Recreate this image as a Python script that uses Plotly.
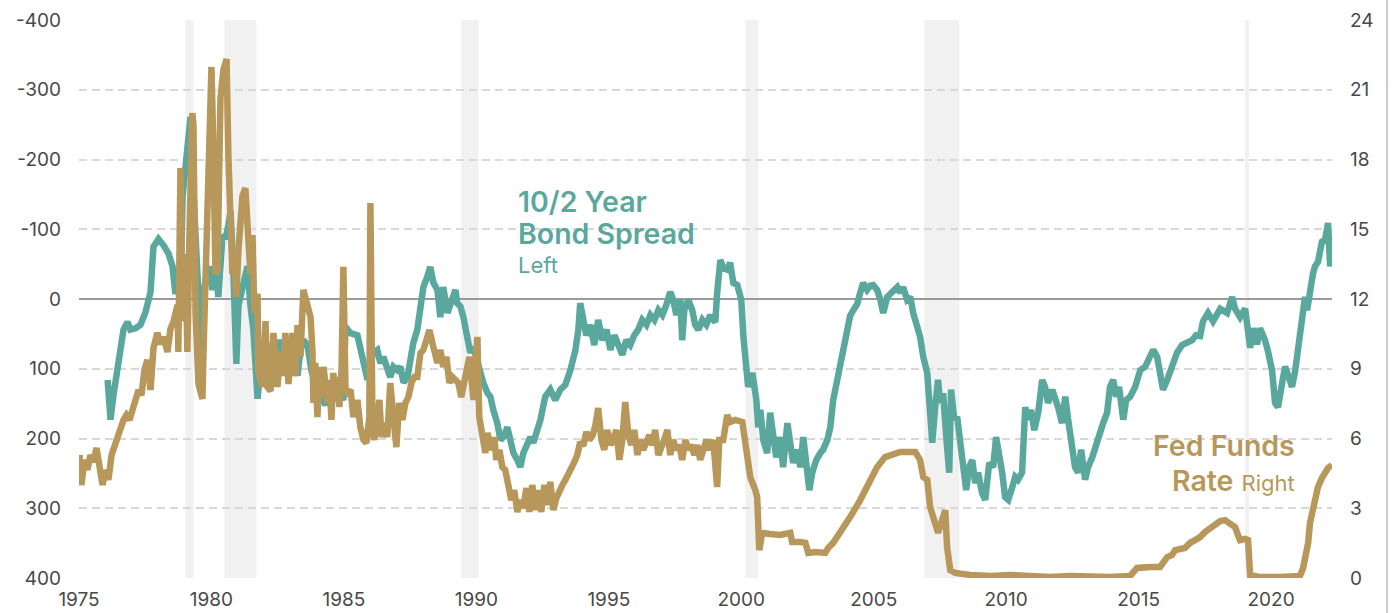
import plotly.graph_objects as go

# ---------------- data ----------------
x_ticks = [1975, 1980, 1985, 1990, 1995, 2000, 2005, 2010, 2015, 2020]
left_ticks = [-400, -300, -200, -100, 0, 100, 200, 300, 400]
left_labels = ["-400", "-300", "-200", "-100", "0", "100", "200", "300", "400"]
right_ticks = [0, 3, 6, 9, 12, 15, 18, 21, 24]

recession_start = [1979.02, 1980.49, 1989.43, 2000.15, 2006.91, 2019.02]
recession_end = [1979.32, 1981.70, 1990.08, 2000.64, 2008.23, 2019.17]

# 10/2 year bond spread, basis points (left axis, inverted)
spread_years = [
    1976.08, 1976.19, 1976.30, 1976.45, 1976.57, 1976.68, 1976.83, 1976.94, 1977.13, 1977.32,
    1977.51, 1977.62, 1977.70, 1977.81, 1978.00, 1978.19, 1978.38, 1978.53, 1978.64, 1978.72,
    1978.83, 1978.91, 1979.02, 1979.09, 1979.21, 1979.28, 1979.40, 1979.47, 1979.58, 1979.66,
    1979.70, 1979.77, 1979.89, 1980.04, 1980.15, 1980.26, 1980.42, 1980.53, 1980.64, 1980.72,
    1980.83, 1980.94, 1981.02, 1981.21, 1981.36, 1981.47, 1981.58, 1981.74, 1981.92, 1982.11,
    1982.34, 1982.53, 1982.72, 1982.87, 1982.98, 1983.25, 1983.36, 1983.47, 1983.62, 1983.77,
    1983.92, 1984.11, 1984.30, 1984.49, 1984.68, 1984.87, 1984.98, 1985.06, 1985.25, 1985.51,
    1985.62, 1985.74, 1985.89, 1986.00, 1986.11, 1986.26, 1986.38, 1986.49, 1986.64, 1986.75,
    1986.87, 1987.02, 1987.13, 1987.25, 1987.40, 1987.51, 1987.62, 1987.77, 1987.89, 1988.00,
    1988.15, 1988.26, 1988.38, 1988.53, 1988.64, 1988.75, 1988.91, 1989.02, 1989.13, 1989.21,
    1989.28, 1989.40, 1989.51, 1989.66, 1989.77, 1989.89, 1990.04, 1990.15, 1990.26, 1990.42,
    1990.53, 1990.64, 1990.79, 1990.91, 1991.02, 1991.17, 1991.28, 1991.40, 1991.55, 1991.66,
    1991.77, 1991.92, 1992.04, 1992.15, 1992.30, 1992.42, 1992.60, 1992.79, 1992.98, 1993.17,
    1993.36, 1993.55, 1993.74, 1993.85, 1993.92, 1994.04, 1994.15, 1994.30, 1994.45, 1994.60,
    1994.75, 1994.91, 1995.06, 1995.21, 1995.36, 1995.51, 1995.66, 1995.81, 1995.96, 1996.11,
    1996.26, 1996.42, 1996.57, 1996.72, 1996.87, 1997.02, 1997.17, 1997.32, 1997.43, 1997.55,
    1997.70, 1997.77, 1997.85, 1998.00, 1998.15, 1998.26, 1998.38, 1998.53, 1998.68, 1998.83,
    1998.94, 1999.02, 1999.09, 1999.21, 1999.32, 1999.47, 1999.58, 1999.70, 1999.85, 2000.00,
    2000.08, 2000.19, 2000.26, 2000.42, 2000.57, 2000.64, 2000.72, 2000.83, 2000.98, 2001.09,
    2001.21, 2001.32, 2001.47, 2001.58, 2001.74, 2001.85, 2001.96, 2002.11, 2002.23, 2002.34,
    2002.45, 2002.57, 2002.68, 2002.83, 2002.98, 2003.09, 2003.25, 2003.36, 2003.47, 2003.62,
    2003.74, 2003.85, 2004.00, 2004.11, 2004.23, 2004.38, 2004.49, 2004.60, 2004.75, 2004.87,
    2004.98, 2005.13, 2005.25, 2005.36, 2005.51, 2005.74, 2005.89, 2006.00, 2006.11, 2006.26,
    2006.38, 2006.49, 2006.64, 2006.75, 2006.87, 2007.02, 2007.13, 2007.21, 2007.32, 2007.43,
    2007.51, 2007.62, 2007.74, 2007.85, 2007.92, 2008.04, 2008.15, 2008.26, 2008.38, 2008.49,
    2008.60, 2008.72, 2008.83, 2008.94, 2009.09, 2009.21, 2009.36, 2009.51, 2009.62, 2009.74,
    2009.85, 2009.96, 2010.08, 2010.23, 2010.34, 2010.45, 2010.60, 2010.72, 2010.83, 2010.94,
    2011.06, 2011.21, 2011.36, 2011.47, 2011.58, 2011.74, 2011.85, 2011.96, 2012.11, 2012.23,
    2012.34, 2012.49, 2012.60, 2012.72, 2012.83, 2012.98, 2013.09, 2013.25, 2013.40, 2013.55,
    2013.66, 2013.81, 2013.92, 2014.04, 2014.15, 2014.26, 2014.42, 2014.53, 2014.68, 2014.87,
    2015.06, 2015.25, 2015.43, 2015.55, 2015.70, 2015.81, 2015.92, 2016.08, 2016.19, 2016.30,
    2016.45, 2016.64, 2016.83, 2017.02, 2017.17, 2017.32, 2017.43, 2017.62, 2017.81, 2018.08,
    2018.34, 2018.53, 2018.64, 2018.83, 2019.02, 2019.13, 2019.21, 2019.32, 2019.47, 2019.58,
    2019.77, 2019.89, 2020.04, 2020.15, 2020.26, 2020.42, 2020.53, 2020.64, 2020.79, 2020.91,
    2021.02, 2021.17, 2021.28, 2021.36, 2021.47, 2021.58, 2021.66, 2021.77, 2021.92, 2022.04,
    2022.15, 2022.23, 2022.30,
]
spread_bp = [
    116, 173, 138, 102, 80, 44, 33, 44, 42, 37,
    19, 1, -10, -75, -86, -77, -65, -47, -7, -36,
    -20, -148, -199, -232, -261, -185, -70, -36, 32, 73,
    1, -27, -47, -13, -47, -3, -92, -86, -106, -126,
    -36, 93, 9, -19, -47, 9, 43, 143, 76, 65,
    99, 59, 76, 110, 65, 110, 73, 59, 66, 102,
    123, 138, 152, 130, 142, 138, 145, 40, 49, 52,
    73, 97, 116, 92, 77, 73, 92, 83, 102, 112,
    97, 102, 97, 120, 112, 83, 63, 44, 6, -17,
    -32, -46, -23, -13, 26, -17, 20, 6, -9, -13,
    6, 11, 26, 63, 77, 69, 92, 112, 120, 135,
    140, 159, 178, 202, 198, 184, 206, 221, 231, 241,
    221, 206, 198, 206, 188, 173, 140, 130, 145, 130,
    123, 102, 73, 44, 6, 30, 52, 37, 66, 30,
    59, 44, 73, 52, 66, 80, 59, 66, 52, 44,
    30, 37, 23, 30, 16, 23, 9, -10, 1, 23,
    1, 59, 16, 1, 16, 37, 44, 30, 37, 23,
    30, 33, -9, -56, -44, -42, -52, -23, -20, 1,
    54, 97, 126, 106, 145, 184, 159, 202, 221, 163,
    192, 227, 198, 241, 178, 212, 235, 216, 241, 198,
    227, 274, 249, 231, 221, 216, 202, 184, 145, 116,
    90, 69, 34, 24, 16, 7, -9, -23, -13, -19,
    -20, -13, 1, 20, -3, -13, -17, -9, -17, 1,
    -3, 20, 40, 54, 83, 106, 163, 206, 155, 116,
    149, 135, 198, 249, 130, 173, 169, 198, 241, 274,
    241, 231, 264, 249, 278, 288, 235, 241, 198, 221,
    249, 284, 288, 270, 255, 259, 249, 155, 173, 159,
    188, 163, 116, 126, 149, 130, 140, 155, 178, 140,
    173, 212, 241, 249, 216, 259, 241, 227, 206, 188,
    178, 163, 126, 116, 140, 126, 173, 145, 140, 126,
    102, 97, 83, 73, 83, 106, 130, 116, 106, 92,
    77, 66, 62, 59, 52, 53, 32, 20, 32, 14,
    20, -3, 14, 26, 14, 42, 70, 42, 65, 42,
    59, 76, 103, 149, 155, 120, 97, 109, 126, 103,
    76, 32, -3, 16, -14, -36, -47, -53, -82, -85,
    -109, -47, -59,
]

# Fed funds rate, percent (right axis)
ff_years = [
    1975.02, 1975.09, 1975.21, 1975.32, 1975.43, 1975.55, 1975.66, 1975.77, 1975.89, 1976.00,
    1976.11, 1976.23, 1976.34, 1976.45, 1976.57, 1976.68, 1976.79, 1976.91, 1977.02, 1977.13,
    1977.25, 1977.36, 1977.47, 1977.58, 1977.70, 1977.81, 1977.96, 1978.08, 1978.19, 1978.34,
    1978.45, 1978.57, 1978.72, 1978.75, 1978.83, 1978.91, 1978.94, 1979.02, 1979.09, 1979.17,
    1979.28, 1979.32, 1979.40, 1979.47, 1979.51, 1979.58, 1979.66, 1979.70, 1979.77, 1979.85,
    1979.89, 1980.00, 1980.08, 1980.15, 1980.23, 1980.26, 1980.34, 1980.45, 1980.57, 1980.64,
    1980.72, 1980.79, 1980.83, 1980.94, 1981.02, 1981.17, 1981.28, 1981.36, 1981.47, 1981.55,
    1981.62, 1981.74, 1981.77, 1981.92, 1982.04, 1982.11, 1982.23, 1982.34, 1982.49, 1982.60,
    1982.72, 1982.79, 1982.91, 1983.06, 1983.17, 1983.25, 1983.36, 1983.47, 1983.55, 1983.62,
    1983.74, 1983.81, 1983.85, 1983.92, 1984.00, 1984.08, 1984.15, 1984.23, 1984.30, 1984.38,
    1984.45, 1984.53, 1984.60, 1984.68, 1984.75, 1984.83, 1984.91, 1984.98, 1985.06, 1985.13,
    1985.25, 1985.36, 1985.51, 1985.62, 1985.74, 1985.85, 1985.96, 1986.00, 1986.08, 1986.15,
    1986.26, 1986.34, 1986.42, 1986.53, 1986.64, 1986.75, 1986.87, 1986.98, 1987.09, 1987.21,
    1987.32, 1987.43, 1987.55, 1987.66, 1987.77, 1987.89, 1988.00, 1988.11, 1988.23, 1988.34,
    1988.45, 1988.53, 1988.64, 1988.75, 1988.87, 1988.98, 1989.09, 1989.21, 1989.32, 1989.43,
    1989.55, 1989.66, 1989.74, 1989.85, 1989.89, 1989.96, 1990.04, 1990.11, 1990.19, 1990.26,
    1990.34, 1990.42, 1990.49, 1990.57, 1990.68, 1990.75, 1990.87, 1990.98, 1991.09, 1991.21,
    1991.32, 1991.43, 1991.55, 1991.66, 1991.77, 1991.89, 1992.00, 1992.11, 1992.23, 1992.34,
    1992.45, 1992.57, 1992.68, 1992.79, 1992.91, 1993.02, 1993.13, 1993.25, 1993.36, 1993.47,
    1993.58, 1993.70, 1993.81, 1993.92, 1994.04, 1994.15, 1994.26, 1994.38, 1994.49, 1994.60,
    1994.72, 1994.83, 1994.94, 1995.06, 1995.17, 1995.28, 1995.40, 1995.51, 1995.62, 1995.74,
    1995.85, 1995.96, 1996.08, 1996.19, 1996.30, 1996.42, 1996.53, 1996.64, 1996.75, 1996.87,
    1996.98, 1997.09, 1997.21, 1997.32, 1997.43, 1997.55, 1997.66, 1997.77, 1997.89, 1998.00,
    1998.11, 1998.23, 1998.34, 1998.45, 1998.57, 1998.68, 1998.79, 1998.94, 1999.09, 1999.17,
    1999.32, 1999.47, 1999.58, 1999.77, 2000.04, 2000.15, 2000.34, 2000.53, 2000.60, 2000.68,
    2000.79, 2001.09, 2001.47, 2001.85, 2001.92, 2002.23, 2002.42, 2002.53, 2002.79, 2003.17,
    2003.28, 2003.47, 2003.74, 2003.92, 2004.11, 2004.49, 2004.87, 2005.13, 2005.43, 2005.62,
    2006.00, 2006.57, 2006.75, 2006.87, 2007.02, 2007.13, 2007.32, 2007.43, 2007.58, 2007.70,
    2007.77, 2007.89, 2008.08, 2008.64, 2009.40, 2010.15, 2010.91, 2011.66, 2012.42, 2013.17,
    2013.92, 2014.68, 2014.94, 2015.43, 2015.81, 2015.92, 2016.08, 2016.26, 2016.38, 2016.75,
    2016.94, 2017.13, 2017.32, 2017.51, 2017.70, 2017.89, 2018.08, 2018.26, 2018.45, 2018.64,
    2018.75, 2018.83, 2019.02, 2019.13, 2019.21, 2019.58, 2020.34, 2021.09, 2021.21, 2021.32,
    2021.40, 2021.47, 2021.58, 2021.66, 2021.77, 2021.92, 2022.04, 2022.15, 2022.30,
]
ff_rate = [
    5.29, 4.00, 5.08, 4.65, 5.29, 4.99, 5.59, 4.86, 4.00, 4.65,
    4.22, 5.29, 5.72, 5.94, 6.37, 6.80, 7.01, 6.80, 7.23, 7.66,
    8.09, 7.87, 8.95, 9.38, 8.09, 9.89, 10.54, 10.06, 10.37, 9.72,
    10.71, 11.05, 11.74, 9.72, 17.63, 11.05, 11.40, 13.94, 9.72, 14.75,
    20.00, 19.48, 11.40, 8.86, 8.34, 8.04, 7.70, 9.72, 13.08, 14.75,
    18.97, 21.98, 18.11, 13.08, 13.25, 16.43, 20.65, 21.85, 22.32, 18.11,
    15.61, 13.08, 14.11, 12.09, 14.11, 16.43, 16.77, 14.75, 13.08, 14.75,
    11.40, 12.22, 8.86, 8.22, 11.05, 8.22, 8.04, 10.54, 8.22, 9.72,
    8.69, 10.54, 8.34, 10.54, 8.69, 10.88, 9.51, 12.39, 12.09, 11.83,
    11.23, 9.81, 7.53, 9.25, 6.92, 9.08, 7.78, 9.08, 8.39, 7.53,
    8.52, 6.80, 8.82, 7.66, 8.65, 7.35, 8.95, 13.38, 8.09, 7.96,
    8.09, 6.92, 7.66, 6.49, 5.94, 5.81, 6.92, 16.13, 6.37, 5.94,
    6.80, 7.66, 6.06, 6.67, 6.06, 8.39, 6.92, 5.63, 7.53, 6.80,
    7.53, 7.78, 8.39, 8.65, 8.65, 9.68, 9.81, 10.37, 10.67, 10.11,
    9.51, 9.25, 9.81, 9.08, 9.51, 8.39, 8.65, 8.52, 8.39, 7.78,
    8.65, 9.08, 9.51, 8.39, 7.66, 9.25, 10.37, 6.92, 6.37, 6.06,
    5.38, 6.24, 5.81, 5.51, 6.06, 5.08, 5.51, 4.77, 4.65, 3.78,
    3.35, 3.78, 2.84, 3.35, 3.01, 3.87, 2.84, 4.00, 2.92, 3.78,
    2.84, 4.00, 3.14, 4.13, 2.92, 3.44, 3.78, 4.00, 4.22, 4.43,
    4.73, 4.99, 5.29, 5.85, 5.68, 6.28, 5.94, 6.11, 6.54, 7.31,
    5.94, 5.51, 6.37, 5.72, 5.94, 6.37, 5.08, 5.94, 7.57, 6.15,
    5.72, 6.37, 5.29, 5.94, 5.51, 5.94, 6.15, 5.72, 6.37, 5.29,
    5.72, 5.94, 6.37, 5.29, 5.94, 5.51, 5.72, 5.08, 5.94, 5.51,
    5.72, 5.29, 5.72, 5.08, 5.51, 5.94, 5.51, 5.94, 3.91, 5.94,
    5.94, 7.01, 6.71, 6.80, 6.71, 5.63, 4.34, 3.78, 3.48, 1.20,
    1.94, 1.89, 1.85, 1.94, 1.55, 1.55, 1.51, 1.08, 1.12, 1.08,
    1.29, 1.51, 1.94, 2.28, 2.62, 3.35, 4.22, 4.77, 5.20, 5.29,
    5.42, 5.42, 5.08, 4.34, 4.22, 3.05, 2.19, 1.94, 2.49, 2.92,
    1.33, 0.34, 0.22, 0.13, 0.09, 0.13, 0.09, 0.04, 0.09, 0.04,
    0.04, 0.09, 0.43, 0.47, 0.47, 0.65, 0.90, 0.99, 1.20, 1.29,
    1.51, 1.63, 1.76, 1.98, 2.15, 2.28, 2.45, 2.49, 2.37, 2.19,
    1.85, 1.63, 1.68, 1.63, 0.13, 0.04, 0.04, 0.09, 0.43, 1.08,
    1.51, 2.37, 3.05, 3.48, 3.91, 4.30, 4.52, 4.73, 4.86,
]

# ---------------- styling ----------------
TEAL = "#5aa89d"
GOLD = "#b8975a"
FONT = "Inter"
TICK_COLOR = "#484848"

fig = go.Figure()

for x0, x1 in zip(recession_start, recession_end):
    fig.add_shape(type="rect", xref="x", yref="paper", x0=x0, x1=x1, y0=0, y1=1,
                  fillcolor="#f1f1f1", line_width=0, layer="below")

fig.add_trace(go.Scatter(x=spread_years, y=spread_bp, mode="lines", name="10/2 Year Bond Spread",
                         line=dict(color=TEAL, width=6.5), yaxis="y", hoverinfo="skip"))
fig.add_trace(go.Scatter(x=ff_years, y=ff_rate, mode="lines", name="Fed Funds Rate",
                         line=dict(color=GOLD, width=6.5), yaxis="y2", hoverinfo="skip"))

# thin frame line at the right of the image
fig.add_shape(type="line", xref="paper", yref="paper", x0=1.0439, x1=1.0439, y0=-0.07, y1=1.04,
              line=dict(color="#cccccc", width=2))

tickfont = dict(size=19, color=TICK_COLOR, family=FONT, weight=400)

fig.update_layout(
    width=1392, height=613,
    margin=dict(l=79, r=60, t=20, b=35, autoexpand=False),
    paper_bgcolor="white", plot_bgcolor="white",
    showlegend=False,
    font=dict(family=FONT, color=TICK_COLOR, size=19),
    xaxis=dict(range=[1975, 2022.3], tickvals=x_ticks, ticktext=[str(v) for v in x_ticks],
               showgrid=False, zeroline=False, showline=False, ticks="", automargin=False,
               ticklabelstandoff=8, tickfont=tickfont),
    yaxis=dict(range=[400, -400], tickvals=left_ticks, ticktext=left_labels, automargin=False,
               showgrid=True, gridcolor="#d8d8d8", griddash="8px,5px", gridwidth=1.5,
               zeroline=True, zerolinecolor="#9a9a9a", zerolinewidth=1.5,
               showline=False, ticks="", ticklabelstandoff=17, tickfont=tickfont),
    yaxis2=dict(range=[0, 24], tickvals=right_ticks, ticktext=[str(v) for v in right_ticks],
                overlaying="y", side="right", showgrid=False, zeroline=False, showline=False,
                ticks="", ticklabelstandoff=17, automargin=False, tickfont=tickfont),
)

ann_common = dict(xref="paper", yref="paper", showarrow=False, yanchor="middle")
fig.add_annotation(text="10/2 Year", x=0.3488, y=0.6756, xanchor="left",
                   font=dict(size=28.5, color=TEAL, family=FONT, weight=600), **ann_common)
fig.add_annotation(text="Bond Spread", x=0.3488, y=0.6165, xanchor="left",
                   font=dict(size=28.5, color=TEAL, family=FONT, weight=600), **ann_common)
fig.add_annotation(text="Left", x=0.3488, y=0.5609, xanchor="left",
                   font=dict(size=22, color=TEAL, family=FONT, weight=400), **ann_common)
fig.add_annotation(text="Fed Funds", x=0.9721, y=0.2366, xanchor="right",
                   font=dict(size=28.5, color=GOLD, family=FONT, weight=600), **ann_common)
fig.add_annotation(text="<span style='font-weight:600'>Rate</span> "
                        "<span style='font-size:22px;font-weight:400'>Right</span>",
                   x=0.9721, y=0.1747, xanchor="right",
                   font=dict(size=28.5, color=GOLD, family=FONT, weight=400), **ann_common)

fig.write_html("out.html", config={"displayModeBar": False},
               post_script="document.body.style.margin='0';document.body.style.overflow='hidden';")
